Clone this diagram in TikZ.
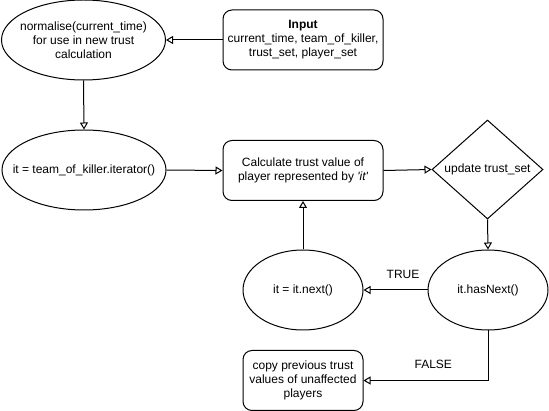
\documentclass[tikz,border=0pt]{standalone}
\usepackage{fontspec}
\setmainfont{Liberation Sans}
\usetikzlibrary{shapes.geometric,arrows.meta}
\begin{document}
\begin{tikzpicture}[x=1pt,y=-1pt,
  every node/.style={font=\fontsize{12}{14}\selectfont},
  base/.style={draw=black,line width=1pt,inner sep=0pt},
  oval/.style={base,ellipse},
  rbox/.style={base,rectangle,rounded corners=9pt},
  dia/.style={base,diamond},
  inlabel/.style={label={[align=center]center:#1}},
  conn/.style={draw=black,line width=1pt,-{Triangle[open,length=7pt,width=8pt]}},
  lab/.style={font=\fontsize{12}{14}\selectfont}
]
\useasboundingbox (0,0) rectangle (549,411);
\node[oval,minimum width=164pt,minimum height=80pt,inlabel={normalise(current\_time)\\for use in new trust\\calculation}] (norm) at (83.5,40) {};
\node[rbox,minimum width=160pt,minimum height=60pt,align=center] (input) at (303,40) {\textbf{Input}\\current\_time, team\_of\_killer,\\trust\_set, player\_set};
\node[oval,minimum width=164pt,minimum height=80pt,inlabel={it = team\_of\_killer.iterator()}] (iter) at (84,170) {};
\node[rbox,minimum width=160pt,minimum height=60pt,align=center] (calc) at (303,170.5) {Calculate trust value of\\player represented by {\itshape\textquotesingle it\textquotesingle}};
\node[dia,minimum width=111pt,minimum height=99pt,inlabel={update trust\_set}] (upd) at (487.5,169.5) {};
\node[oval,minimum width=120pt,minimum height=80pt,inlabel={it.hasNext()}] (hasnext) at (488,290) {};
\node[oval,minimum width=120pt,minimum height=80pt,inlabel={it = it.next()}] (next) at (303,290) {};
\node[rbox,minimum width=120pt,minimum height=60pt,align=center] (copy) at (303,380.5) {copy previous trust\\values of unaffected\\players};
\draw[conn] (input.west) -- (norm.east);
\draw[conn] (norm.south) -- (iter.north);
\draw[conn] (iter.east) -- (calc.west);
\draw[conn] (calc.east) -- (upd.west);
\draw[conn] (upd.south) -- (hasnext.north);
\draw[conn] (hasnext.west) -- node[lab,above=8pt,xshift=7.5pt] (tl) {TRUE} (next.east);
\draw[conn] (next.north) -- (calc.south);
\draw[conn] (hasnext.south) |- node[lab,pos=0.75,above=8pt,xshift=7.5pt] (fl) {FALSE} (copy.east);
\end{tikzpicture}
\end{document}
